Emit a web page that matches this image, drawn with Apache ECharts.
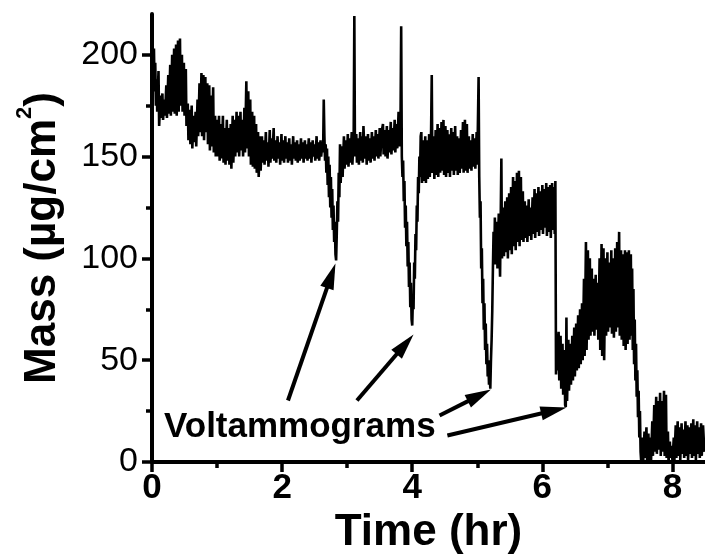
<!DOCTYPE html>
<html>
<head>
<meta charset="utf-8">
<script src="https://cdn.jsdelivr.net/npm/echarts@6/dist/echarts.min.js"></script>
<style>
  html, body { margin: 0; padding: 0; background: #fff; }
  #chart { width: 705px; height: 560px; }
</style>
</head>
<body>
<div id="chart"></div>
<script>
const FONT = '"Liberation Sans", Arial, Helvetica, sans-serif';

// Electrode mass, [time (hr), mass (µg/cm²)], split at each voltammogram.
const settling = [
  [0.00,215],[0.01,205],[0.02,185],[0.03,203],[0.04,182],[0.05,196],[0.06,175],[0.07,188],[0.08,172],[0.10,192],
  [0.11,165],[0.13,180],[0.14,169],[0.16,181],[0.17,168],[0.19,178],[0.20,170],[0.22,185],[0.23,169],[0.25,190],
  [0.26,171],[0.28,195],[0.29,170],[0.31,200],[0.32,172],[0.34,203],[0.35,171],[0.37,205],[0.38,170],[0.40,207],
  [0.41,172],[0.43,208],[0.44,175],[0.46,200],[0.47,172],[0.49,196],[0.50,170],[0.52,193],[0.53,165],[0.55,176],
  [0.56,158],[0.58,173],[0.59,156],[0.61,175],[0.62,154],[0.64,170],[0.65,157],[0.67,172],[0.68,155],[0.70,178],
  [0.71,160],[0.73,186],[0.74,162],[0.76,191],[0.77,160],[0.79,190],[0.80,158],[0.82,189],[0.83,162],[0.85,186],
  [0.86,156],[0.88,185],[0.89,153],[0.91,180],[0.92,155],[0.94,184],[0.95,152],[0.97,170],[0.98,150],[1.00,168],
  [1.01,150],[1.03,170],[1.04,148],[1.06,166],[1.07,149],[1.09,170],[1.10,147],[1.12,164],[1.13,146],[1.15,168],
  [1.16,148],[1.18,164],[1.19,146],[1.21,166],[1.22,144],[1.24,170],[1.25,147],[1.27,168],[1.28,150],[1.30,172],
  [1.31,152],[1.33,170],[1.34,150],[1.36,172],[1.37,153],[1.39,168],[1.40,150],[1.42,174],[1.43,152],[1.45,187],
  [1.46,154],[1.48,182],[1.49,150],[1.51,178],[1.52,146],[1.54,172],[1.55,145],[1.57,170],[1.58,144],[1.60,166],
  [1.61,142],[1.63,162],[1.64,140],[1.66,160],[1.67,143],[1.69,160],[1.70,147],[1.72,158],[1.73,146],[1.75,162],
  [1.76,148],[1.78,157],[1.79,145],[1.81,163],[1.82,147],[1.84,159],[1.85,149],[1.87,164],[1.88,148],[1.90,158],
  [1.91,147],[1.93,160],[1.94,149],[1.96,157],[1.97,146],[1.99,161],[2.00,148],[2.02,158],[2.03,147],[2.05,160],
  [2.06,149],[2.08,157],[2.09,147],[2.11,159],[2.12,148],[2.14,156],[2.15,146],[2.17,160],[2.18,149],[2.20,157],
  [2.21,148],[2.23,158],[2.24,147],[2.26,156],[2.27,148],[2.29,159],[2.30,149],[2.32,157],[2.33,147],[2.35,158],
  [2.36,149],[2.38,156],[2.39,148],[2.41,159],[2.42,149],[2.44,157],[2.45,147],[2.47,158],[2.48,150],[2.50,156],
  [2.51,148],[2.53,160],[2.54,149],[2.56,157],[2.57,148],[2.59,158],[2.60,150],[2.62,157],[2.63,152]
];
const cycle1 = [
  [2.64,178],[2.65,160],[2.66,148],[2.67,156],[2.68,142],[2.69,154],[2.70,136],[2.71,150],[2.72,130],[2.73,146],
  [2.74,125],[2.75,140],[2.76,120],[2.77,134],[2.78,114],[2.79,126],[2.80,108],[2.81,118],[2.82,102],[2.83,99],
  [2.84,112],[2.85,128],[2.86,118],[2.87,142],[2.88,130],[2.89,156],[2.90,137],[2.92,155],[2.93,140],[2.95,160],
  [2.96,144],[2.98,158],[2.99,146],[3.01,161],[3.02,145],[3.04,159],[3.05,147],[3.07,162],[3.08,146],[3.10,160],
  [3.11,219],[3.12,150],[3.14,161],[3.15,147],[3.17,159],[3.18,146],[3.20,162],[3.21,148],[3.23,160],[3.24,147],
  [3.25,165],[3.27,149],[3.29,160],[3.30,146],[3.32,161],[3.33,148],[3.35,159],[3.36,147],[3.38,162],[3.39,149],
  [3.41,160],[3.42,148],[3.44,163],[3.45,150],[3.47,161],[3.48,149],[3.50,164],[3.51,150],[3.53,162],[3.55,166],
  [3.56,151],[3.58,163],[3.59,150],[3.61,165],[3.62,149],[3.64,163],[3.65,152],[3.67,167],[3.68,151],[3.70,164],
  [3.71,153],[3.73,168],[3.74,152],[3.76,166],[3.77,154],[3.79,172],[3.80,155],[3.82,168]
];
const cycle2 = [
  [3.83,214],[3.84,150],[3.85,140],[3.86,148],[3.87,128],[3.88,138],[3.89,115],[3.90,126],[3.91,106],[3.92,118],
  [3.93,96],[3.94,108],[3.95,86],[3.96,98],[3.97,76],[3.98,88],[3.99,70],[4.00,67],[4.01,80],[4.02,75],
  [4.03,98],[4.04,90],[4.05,112],[4.06,104],[4.07,126],[4.08,118],[4.09,140],[4.10,132],[4.11,150],[4.12,140],
  [4.13,160],[4.14,162],[4.15,137],[4.17,158],[4.18,138],[4.20,160],[4.21,137],[4.23,158],[4.24,139],[4.26,161],
  [4.27,140],[4.29,163],[4.30,190],[4.31,142],[4.33,160],[4.34,139],[4.36,163],[4.37,141],[4.39,166],[4.40,140],
  [4.42,164],[4.43,142],[4.45,167],[4.46,143],[4.48,168],[4.49,141],[4.51,165],[4.52,140],[4.54,163],[4.55,142],
  [4.57,161],[4.58,140],[4.60,164],[4.61,143],[4.63,162],[4.64,141],[4.66,165],[4.67,143],[4.69,160],[4.70,141],
  [4.72,159],[4.73,142],[4.75,163],[4.76,144],[4.78,167],[4.79,142],[4.81,168],[4.82,143],[4.84,166],[4.85,142],
  [4.87,160],[4.88,144],[4.90,158],[4.91,143],[4.93,161],[4.94,145],[4.96,159],[4.97,144],[4.99,162],[5.00,146]
];
const cycle3 = [
  [5.02,189],[5.03,140],[5.04,120],[5.05,128],[5.06,95],[5.07,105],[5.08,78],[5.09,90],[5.10,65],[5.11,78],
  [5.12,55],[5.13,68],[5.14,48],[5.15,58],[5.16,42],[5.17,50],[5.18,38],[5.19,44],[5.20,36],[5.21,50],
  [5.22,60],[5.23,74],[5.24,95],[5.25,113],[5.26,98],[5.27,120],[5.28,97],[5.30,118],[5.31,95],[5.33,122],
  [5.35,91],[5.37,149],[5.38,100],[5.40,125],[5.41,101],[5.43,128],[5.44,103],[5.46,130],[5.47,100],[5.49,132],
  [5.50,104],[5.52,135],[5.53,102],[5.55,140],[5.56,106],[5.58,138],[5.59,104],[5.61,142],[5.62,108],[5.64,143],
  [5.65,106],[5.67,140],[5.68,109],[5.70,133],[5.71,108],[5.73,128],[5.74,110],[5.76,126],[5.77,108],[5.79,129],
  [5.80,111],[5.82,125],[5.83,109],[5.85,130],[5.86,112],[5.88,134],[5.89,110],[5.91,132],[5.92,113],[5.94,135],
  [5.95,111],[5.97,133],[5.98,114],[6.00,136],[6.01,112],[6.03,134],[6.04,115],[6.06,137],[6.07,111],[6.09,135],
  [6.10,113],[6.12,136],[6.13,110],[6.15,137],[6.16,114],[6.18,135],[6.19,112],[6.20,138]
];
const cycle4 = [
  [6.21,43],[6.22,63],[6.23,45],[6.25,64],[6.26,40],[6.28,62],[6.29,36],[6.31,58],[6.32,33],[6.34,55],
  [6.35,28],[6.36,27],[6.37,71],[6.38,30],[6.40,60],[6.41,35],[6.43,58],[6.44,38],[6.46,62],[6.47,40],
  [6.49,66],[6.50,42],[6.52,68],[6.53,45],[6.55,72],[6.56,46],[6.58,75],[6.59,48],[6.61,78],[6.62,50],
  [6.64,90],[6.65,52],[6.67,108],[6.68,55],[6.70,104],[6.71,60],[6.73,100],[6.74,62],[6.76,95],[6.77,64],
  [6.79,90],[6.80,62],[6.82,92],[6.83,65],[6.85,88],[6.86,60],[6.88,100],[6.89,55],[6.91,107],[6.92,52],
  [6.94,105],[6.95,50],[6.97,100],[6.98,62],[7.00,103],[7.01,64],[7.03,98],[7.04,66],[7.06,104],[7.07,63],
  [7.09,100],[7.10,61],[7.12,105],[7.13,64],[7.15,108],[7.16,66],[7.18,113],[7.19,62],[7.21,104],[7.22,60],
  [7.24,102],[7.25,57],[7.27,104],[7.28,55],[7.30,103],[7.31,58],[7.33,104],[7.34,60],[7.36,102],[7.37,62]
];
const stripping = [
  [7.38,95],[7.39,55],[7.40,85],[7.41,48],[7.42,70],[7.43,40],[7.44,58],[7.45,32],[7.46,45],[7.47,22],
  [7.48,35],[7.49,12],[7.50,25],[7.51,5],[7.52,0],[7.53,12],[7.55,0],
  [7.57,15],[7.58,2],[7.60,17],[7.61,0],[7.63,14],[7.64,1],[7.66,12],[7.67,0],[7.69,20],[7.70,3],
  [7.72,28],[7.73,5],[7.75,32],[7.76,4],[7.78,30],[7.79,6],[7.81,34],[7.82,3],[7.84,30],[7.85,5],
  [7.87,35],[7.88,3],[7.90,33],[7.91,2],[7.93,15],[7.94,0],[7.96,10],[7.97,2],[7.99,8],[8.00,0],
  [8.02,12],[8.03,1],[8.05,18],[8.06,2],[8.08,20],[8.09,3],[8.11,17],[8.12,1],[8.14,19],[8.15,4],
  [8.17,16],[8.18,2],[8.20,20],[8.21,3],[8.23,18],[8.24,1],[8.26,17],[8.27,4],[8.29,19],[8.30,2],
  [8.32,21],[8.33,3],[8.35,18],[8.36,1],[8.38,20],[8.39,4],[8.41,17],[8.42,2],[8.44,19],[8.45,3],
  [8.47,18],[8.49,5]
];

// Annotation arrows: [tail hr, tail mass, tip hr, tip mass]
const arrows = [
  [2.09, 30.2, 2.82, 97.5],
  [3.15, 30.2, 4.02, 62.6],
  [4.42, 22.8, 5.21, 35.6],
  [4.54, 13.0, 6.37, 26.8]
];
const annotationText = 'Voltammograms';

const xMajorTicks = [0, 2, 4, 6, 8];
const xMinorTicks = [1, 3, 5, 7];
const yMajorTicks = [0, 50, 100, 150, 200];
const yMinorTicks = [25, 75, 125, 175];

const trace = [].concat(settling, cycle1, cycle2, cycle3, cycle4, stripping);

const chart = echarts.init(document.getElementById('chart'), null, { renderer: 'canvas' });

const axisLineStyle = { color: '#000', width: 4 };
const tickStyle = { color: '#000', width: 3.5 };

chart.setOption({
  animation: false,
  backgroundColor: '#fff',
  grid: { left: 152, right: 0, top: 14, bottom: 98, containLabel: false },
  xAxis: [
    {
      type: 'value', min: 0, max: 8.5, position: 'bottom',
      axisLine: { show: true, onZero: false, lineStyle: axisLineStyle },
      axisTick: { show: true, inside: false, length: 10, customValues: xMajorTicks, lineStyle: tickStyle },
      axisLabel: { customValues: xMajorTicks, fontSize: 35, fontWeight: 'bold', color: '#000', fontFamily: FONT, margin: 9 },
      splitLine: { show: false },
      name: 'Time (hr)', nameLocation: 'middle', nameGap: 40,
      nameTextStyle: { fontSize: 44, fontWeight: 'bold', color: '#000', fontFamily: FONT }
    },
    {
      type: 'value', min: 0, max: 8.5, position: 'bottom',
      axisLine: { show: false, onZero: false },
      axisTick: { show: true, inside: false, length: 6, customValues: xMinorTicks, lineStyle: tickStyle },
      axisLabel: { show: false },
      splitLine: { show: false }
    }
  ],
  yAxis: [
    {
      type: 'value', min: 0, max: 220, position: 'left',
      axisLine: { show: true, onZero: false, lineStyle: axisLineStyle },
      axisTick: { show: true, inside: false, length: 10, customValues: yMajorTicks, lineStyle: tickStyle },
      axisLabel: { customValues: yMajorTicks, fontSize: 34, color: '#000', fontFamily: FONT, margin: 14 },
      splitLine: { show: false },
      name: 'Mass (µg/cm{sup|2})', nameLocation: 'middle', nameGap: 80,
      nameTextStyle: {
        fontSize: 44, fontWeight: 'bold', color: '#000', fontFamily: FONT, lineHeight: 56,
        rich: { sup: { fontSize: 22, fontWeight: 'bold', color: '#000', fontFamily: FONT, verticalAlign: 'top', lineHeight: 22 } }
      }
    },
    {
      type: 'value', min: 0, max: 220, position: 'left',
      axisLine: { show: false, onZero: false },
      axisTick: { show: true, inside: false, length: 6, customValues: yMinorTicks, lineStyle: tickStyle },
      axisLabel: { show: false },
      splitLine: { show: false }
    }
  ],
  graphic: [
    {
      type: 'text', left: 164, top: 410, z: 10,
      style: { text: annotationText, fontSize: 35, fontWeight: 'bold', fontFamily: FONT, fill: '#000' }
    }
  ],
  series: [
    {
      type: 'line', xAxisIndex: 0, yAxisIndex: 0,
      data: trace, showSymbol: false, symbol: 'none', sampling: 'none',
      lineStyle: { color: '#000', width: 2.6 }, z: 3
    },
    {
      type: 'custom', xAxisIndex: 0, yAxisIndex: 0, clip: false, z: 5,
      data: arrows,
      encode: { x: [0, 2], y: [1, 3] },
      renderItem: function (params, api) {
        const a = api.coord([api.value(0), api.value(1)]);
        const b = api.coord([api.value(2), api.value(3)]);
        const dx = b[0] - a[0], dy = b[1] - a[1];
        const len = Math.hypot(dx, dy);
        const ux = dx / len, uy = dy / len;
        const head = 26, half = 7;
        const bx = b[0] - ux * head, by = b[1] - uy * head;
        return {
          type: 'group',
          children: [
            { type: 'line', shape: { x1: a[0], y1: a[1], x2: bx + ux * 2, y2: by + uy * 2 },
              style: { stroke: '#000', lineWidth: 4 } },
            { type: 'polygon', shape: { points: [[b[0], b[1]], [bx - uy * half, by + ux * half], [bx + uy * half, by - ux * half]] },
              style: { fill: '#000' } }
          ]
        };
      }
    }
  ]
});
</script>
</body>
</html>
